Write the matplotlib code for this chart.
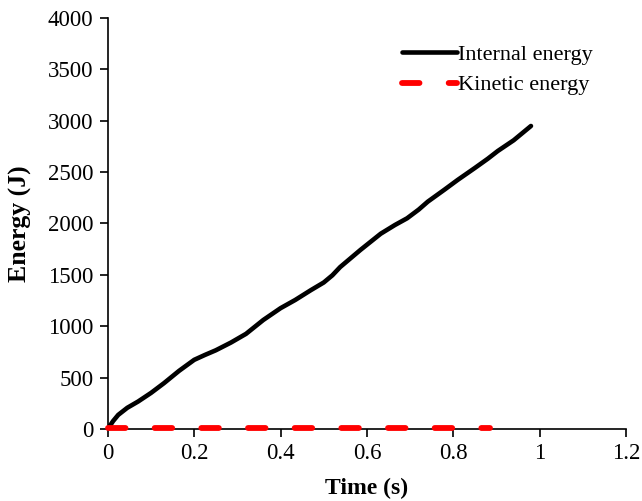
import matplotlib.pyplot as plt

plt.rcParams['font.family'] = ['Liberation Serif', 'DejaVu Serif']

# internal energy
t_int = [0, 0.012, 0.024, 0.045, 0.07, 0.1, 0.13, 0.165, 0.2, 0.225, 0.25, 0.285, 0.32,
         0.36, 0.40, 0.434, 0.47, 0.5, 0.52, 0.538, 0.585, 0.632, 0.665, 0.693, 0.72,
         0.741, 0.78, 0.81, 0.85, 0.88, 0.903, 0.94, 0.98]
e_int = [0, 75, 136, 205, 266, 350, 445, 565, 672, 720, 765, 840, 925,
         1060, 1175, 1255, 1350, 1425, 1495, 1575, 1742, 1900, 1985, 2050, 2135,
         2212, 2330, 2423, 2540, 2630, 2705, 2810, 2949]

# kinetic energy (practically zero)
t_kin = [0, 0.1, 0.2, 0.3, 0.4, 0.5, 0.6, 0.7, 0.8, 0.886]
e_kin = [5, 5, 5, 5, 5, 5, 5, 5, 5, 5]

fig = plt.figure(figsize=(6.42, 5.01), dpi=100)
ax = fig.add_axes([0.168, 0.144, 0.807, 0.820])

ax.plot(t_int, e_int, color='black', lw=3.3, label='Internal energy', zorder=3,
        solid_joinstyle='round', solid_capstyle='round')
ax.plot(t_kin, e_kin, color='red', lw=4.2, dashes=(3, 5), dash_capstyle='round',
        label='Kinetic energy', zorder=4, clip_on=False)

ax.set_xlim(0, 1.2)
ax.set_ylim(0, 4000)
ax.set_xticks([0, 0.2, 0.4, 0.6, 0.8, 1, 1.2])
ax.set_xticklabels(['0', '0.2', '0.4', '0.6', '0.8', '1', '1.2'])
ax.set_yticks(range(0, 4001, 500))

ax.spines['top'].set_visible(False)
ax.spines['right'].set_visible(False)
ax.spines['left'].set_linewidth(1.2)
ax.spines['bottom'].set_linewidth(1.2)
ax.tick_params(direction='out', length=5.5, width=1.2, labelsize=16.5, pad=5)

ax.set_xlabel('Time (s)', fontsize=17, fontweight='bold', labelpad=10)
ax.set_ylabel('Energy (J)', fontsize=18.5, fontweight='bold', labelpad=11)

ax.legend(loc='upper right', bbox_to_anchor=(0.975, 0.985), frameon=False, fontsize=16,
          handlelength=2.5, handletextpad=0.05, labelspacing=0.45)

fig.savefig('out.png', dpi=100)
